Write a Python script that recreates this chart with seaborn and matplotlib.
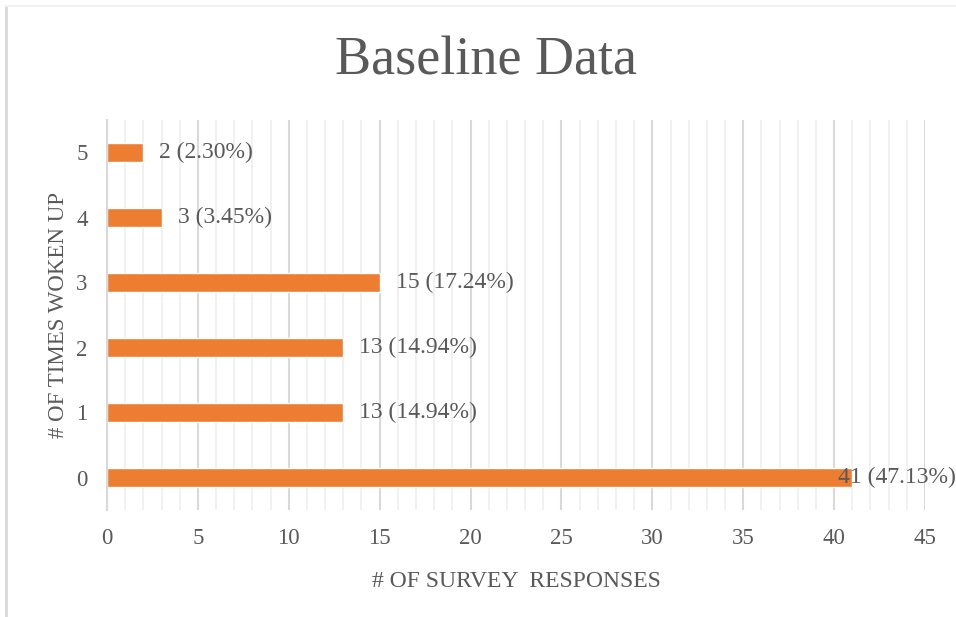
import matplotlib
matplotlib.use("Agg")
import matplotlib.pyplot as plt
import seaborn as sns
import pandas as pd
from matplotlib.lines import Line2D
from matplotlib.ticker import MultipleLocator, FixedLocator

# data
times_woken = ["5", "4", "3", "2", "1", "0"]
responses = [2, 3, 15, 13, 13, 41]
percents = [2.30, 3.45, 17.24, 14.94, 14.94, 47.13]

df = pd.DataFrame({"times": times_woken, "count": responses})

sns.set_style("white")
plt.rcParams["font.family"] = ["Liberation Serif", "DejaVu Serif"]
txt = "#595959"
grid_major = "#d9d9d9"
grid_minor = "#f0f0f0"

fig = plt.figure(figsize=(9.56, 6.17), dpi=100)
ax = fig.add_axes([107 / 956, 1 - 510 / 617, (925 - 107) / 956, 390 / 617])

sns.barplot(data=df, x="count", y="times", order=times_woken, orient="h",
            color="#ED7D31", width=0.28, saturation=1, ax=ax)

ax.set_xlim(0, 45)
ax.set_ylim(5.5, -0.5)
ax.xaxis.set_major_locator(MultipleLocator(5))
ax.xaxis.set_minor_locator(MultipleLocator(1))
ax.grid(True, axis="x", which="major", color=grid_major, linewidth=1.5, zorder=0)
ax.grid(True, axis="x", which="minor", color=grid_minor, linewidth=1.3, zorder=0)
ax.set_axisbelow(True)

ax.yaxis.set_minor_locator(FixedLocator([i - 0.5 for i in range(len(times_woken) + 1)]))
ax.tick_params(axis="y", which="major", length=0, pad=14, labelsize=16.5, labelcolor=txt)
ax.tick_params(axis="y", which="minor", length=5, width=1.5, color=grid_major)
ax.tick_params(axis="x", which="both", length=0, pad=13, labelsize=16.5, labelcolor=txt)

for s in ["top", "right", "bottom"]:
    ax.spines[s].set_visible(False)
ax.spines["left"].set_color(grid_major)
ax.spines["left"].set_linewidth(1.5)

ax.set_xlabel("# OF SURVEY  RESPONSES", fontsize=17, color=txt, labelpad=16)
ax.set_ylabel("# OF TIMES WOKEN UP", fontsize=16.5, color=txt, labelpad=5)

for i, (v, p) in enumerate(zip(responses, percents)):
    off = 11.5 if v < 40 else -10
    ax.annotate(f"{v} ({p:.2f}%)", xy=(v, i), xytext=(off, 0),
                textcoords="offset points", va="center", ha="left",
                fontsize=17, color=txt, annotation_clip=False, clip_on=False)

fig.text(486 / 956, 1 - 61 / 617, "Baseline Data", ha="center", va="center",
         fontsize=39, color=txt)

# chart area border (left and top edges visible)
fig.add_artist(Line2D([5.5 / 956, 5.5 / 956], [0, 1 - 6 / 617], transform=fig.transFigure,
                      color=grid_major, linewidth=2))
fig.add_artist(Line2D([5.5 / 956, 1], [1 - 6 / 617, 1 - 6 / 617], transform=fig.transFigure,
                      color="#f2f2f2", linewidth=1.5))

fig.savefig("out.png", dpi=100)
